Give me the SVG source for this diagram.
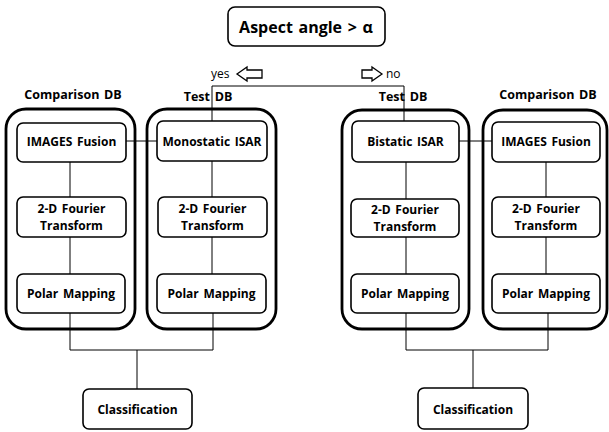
<svg xmlns="http://www.w3.org/2000/svg" width="609" height="432" viewBox="0 0 609 432">
<style>
.cont{fill:none;stroke:#000;stroke-width:2.8}
.box{fill:#fff;stroke:#000;stroke-width:1.6}
.ln{fill:none;stroke:#000;stroke-width:1}
.t{font-family:"Open Sans","Liberation Sans",sans-serif;font-weight:bold;font-size:12px;text-anchor:middle;fill:#000;word-spacing:1.5px}
.h{font-family:"Open Sans","Liberation Sans",sans-serif;font-weight:bold;font-size:12.5px;text-anchor:middle;fill:#000;word-spacing:1.5px}
.r{font-family:"Open Sans","Liberation Sans",sans-serif;font-size:12px;fill:#000}
.arr{fill:#fff;stroke:#000;stroke-width:1.3}
</style>
<g id="connectors">
<path class="ln" d="M212,86 H404 M212,86 V121 M404,86 V121"/>
<path class="ln" d="M126,141 H157 M459,141 H492"/>
<path class="ln" d="M70,162 V197 M70,237 V274 M212,161 V197 M212,237 V274"/>
<path class="ln" d="M406,162 V199 M406,237 V274 M546,162 V197 M546,237 V274"/>
<path class="ln" d="M70,313 V350 H213 V313 M137,350 V389"/>
<path class="ln" d="M406,313 V350 H548 V313 M473,350 V388"/>
</g>
<g id="decision">
<rect x="228" y="7" width="157" height="39" rx="7" class="box"/>
<text x="306" y="33" class="t" style="font-size:16px">Aspect angle &gt; α</text>
</g>
<g id="yes">
<text x="211" y="78" class="r">yes</text>
<polygon class="arr" points="237,74 247,67 247,70 262,70 262,78 247,78 247,81"/>
</g>
<g id="no">
<polygon class="arr" points="382,74 372,67 372,70 362,70 362,78 372,78 372,81"/>
<text x="386" y="78" class="r">no</text>
</g>
<g id="labels">
<text x="73" y="99" class="h">Comparison DB</text>
<text x="208" y="101" class="h">Test DB</text>
<text x="403" y="101" class="h">Test DB</text>
<text x="548" y="99" class="h">Comparison DB</text>
</g>
<g id="comparison-left">
<rect x="6" y="109" width="129" height="220" rx="20" class="cont"/>
</g>
<g id="test-left">
<rect x="147" y="109" width="129" height="220" rx="20" class="cont"/>
</g>
<g id="test-right">
<rect x="342" y="110" width="127" height="219" rx="20" class="cont"/>
</g>
<g id="comparison-right">
<rect x="483" y="110" width="124" height="219" rx="20" class="cont"/>
</g>
<g id="images-fusion-left">
<rect x="17" y="123" width="109" height="39" rx="6" class="box"/>
<text x="71.5" y="146" class="t">IMAGES Fusion</text>
</g>
<g id="monostatic">
<rect x="157" y="121" width="110" height="40" rx="6" class="box"/>
<text x="212" y="146" class="t">Monostatic ISAR</text>
</g>
<g id="bistatic">
<rect x="352" y="121" width="107" height="41" rx="6" class="box"/>
<text x="405.5" y="146" class="t">Bistatic ISAR</text>
</g>
<g id="images-fusion-right">
<rect x="492" y="122" width="108" height="40" rx="6" class="box"/>
<text x="546" y="146" class="t">IMAGES Fusion</text>
</g>
<g id="fft-1">
<rect x="17" y="197" width="109" height="40" rx="6" class="box"/>
<text x="71.5" y="213" class="t">2-D Fourier</text>
<text x="71.5" y="230" class="t">Transform</text>
</g>
<g id="fft-2">
<rect x="158" y="197" width="109" height="40" rx="6" class="box"/>
<text x="212.5" y="213" class="t">2-D Fourier</text>
<text x="212.5" y="230" class="t">Transform</text>
</g>
<g id="fft-3">
<rect x="351" y="199" width="108" height="38" rx="6" class="box"/>
<text x="405" y="214" class="t">2-D Fourier</text>
<text x="405" y="231" class="t">Transform</text>
</g>
<g id="fft-4">
<rect x="492" y="197" width="108" height="40" rx="6" class="box"/>
<text x="546" y="213" class="t">2-D Fourier</text>
<text x="546" y="230" class="t">Transform</text>
</g>
<g id="polar-1">
<rect x="17" y="274" width="108" height="39" rx="6" class="box"/>
<text x="71" y="298" class="t">Polar Mapping</text>
</g>
<g id="polar-2">
<rect x="157" y="274" width="109" height="39" rx="6" class="box"/>
<text x="211.5" y="298" class="t">Polar Mapping</text>
</g>
<g id="polar-3">
<rect x="351" y="274" width="108" height="39" rx="6" class="box"/>
<text x="405" y="298" class="t">Polar Mapping</text>
</g>
<g id="polar-4">
<rect x="492" y="274" width="108" height="39" rx="6" class="box"/>
<text x="546" y="298" class="t">Polar Mapping</text>
</g>
<g id="classification-left">
<rect x="83" y="389" width="109" height="40" rx="6" class="box"/>
<text x="137.5" y="414" class="t">Classification</text>
</g>
<g id="classification-right">
<rect x="418" y="388" width="110" height="41" rx="6" class="box"/>
<text x="473" y="414" class="t">Classification</text>
</g>
</svg>
